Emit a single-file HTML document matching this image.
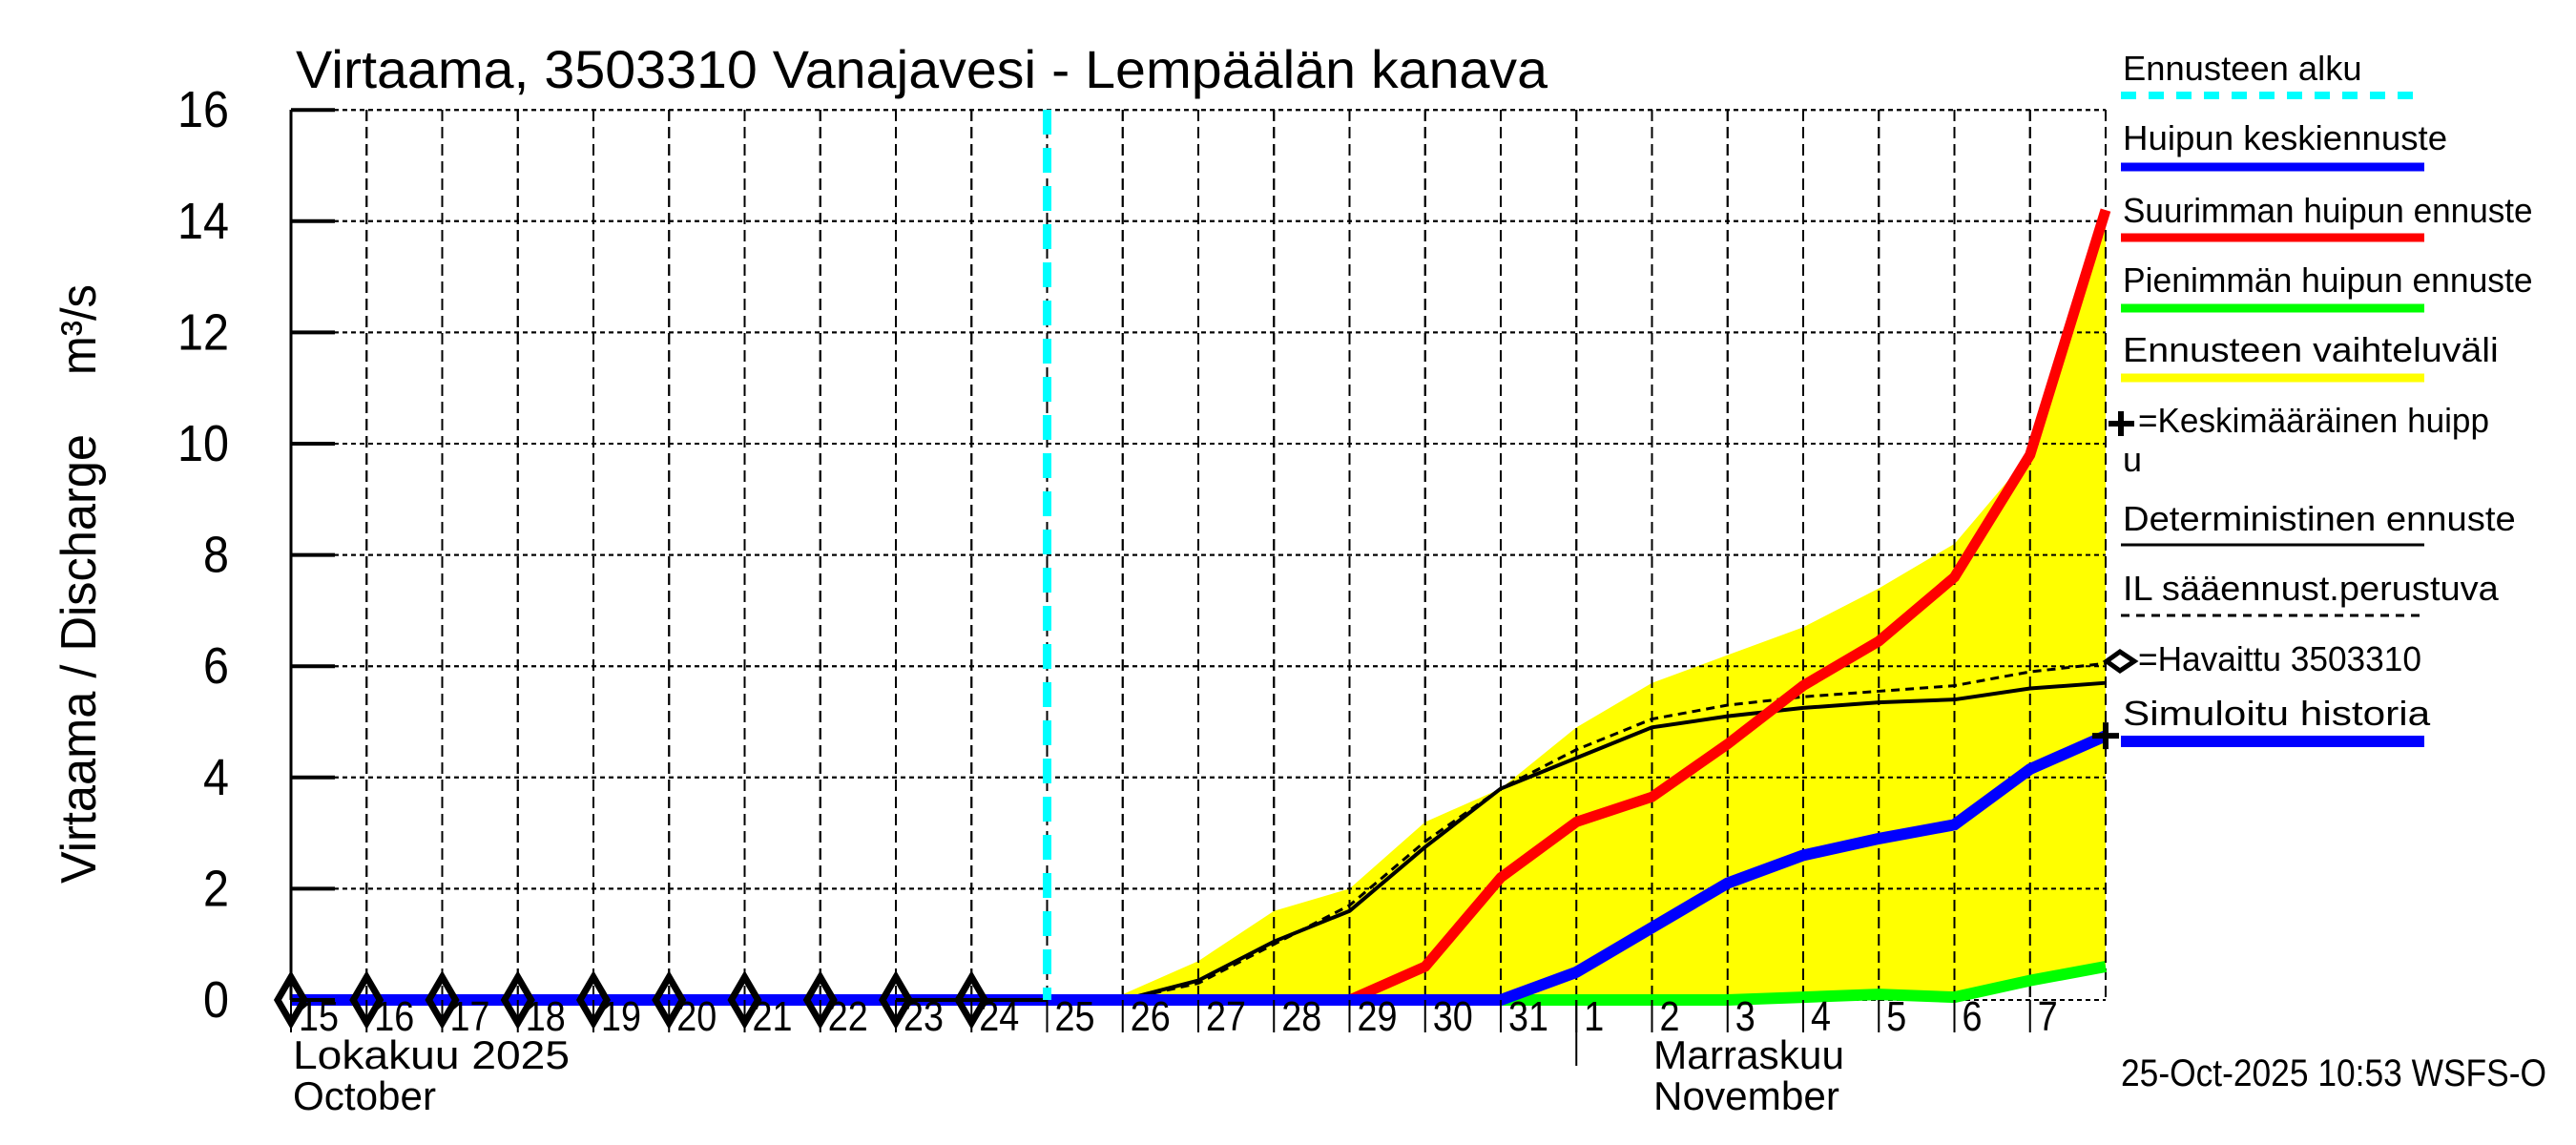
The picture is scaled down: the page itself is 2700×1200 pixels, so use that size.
<!DOCTYPE html>
<html><head><meta charset="utf-8"><style>html,body{margin:0;padding:0;background:#fff}svg{display:block}text{font-family:"Liberation Sans",sans-serif}</style></head>
<body>
<svg id="chart" width="2700" height="1200" viewBox="0 0 2700 1200" xmlns="http://www.w3.org/2000/svg">
<text x="310" y="92" font-size="56" textLength="1312" lengthAdjust="spacingAndGlyphs">Virtaama, 3503310 Vanajavesi - Lempäälän kanava</text>
<text transform="translate(100,926) rotate(-90)" font-size="52" textLength="471" lengthAdjust="spacingAndGlyphs">Virtaama / Discharge</text>
<text transform="translate(100,393) rotate(-90)" font-size="52" textLength="95" lengthAdjust="spacingAndGlyphs">m³/s</text>
<g id="grid"></g><g id="series"></g><g id="axes"></g><g id="legend"></g>
<text x="307" y="1120" font-size="42" textLength="290" lengthAdjust="spacingAndGlyphs">Lokakuu  2025</text>
<text x="307" y="1163" font-size="42" textLength="150" lengthAdjust="spacingAndGlyphs">October</text>
<text x="1733" y="1120" font-size="42" textLength="200" lengthAdjust="spacingAndGlyphs">Marraskuu</text>
<text x="1733" y="1163" font-size="42" textLength="195" lengthAdjust="spacingAndGlyphs">November</text>
<text x="2223" y="1138" font-size="40" textLength="446" lengthAdjust="spacingAndGlyphs">25-Oct-2025 10:53 WSFS-O</text>
</svg>
<script>
const dayLabels=["15","16","17","18","19","20","21","22","23","24","25","26","27","28","29","30","31","1","2","3","4","5","6","7"];
const yTicks=[0,2,4,6,8,10,12,14,16];
const forecastDays=[10,11,12,13,14,15,16,17,18,19,20,21,22,23,24];
const bandUpper=[0,0.1,0.7,1.6,2.0,3.2,3.8,4.9,5.7,6.2,6.7,7.4,8.2,9.8,14.2];
const bandLower=[0,0,0,0,0,0,0,0,0,0,0.05,0.1,0.05,0.35,0.6];
const redMax=[0,0,0,0,0,0.6,2.2,3.2,3.65,4.6,5.65,6.45,7.6,9.8,14.2];
const blueMean=[0,0,0,0,0,0,0,0.5,1.3,2.1,2.6,2.9,3.15,4.15,4.75];
const greenMin=[0,0,0,0,0,0,0,0,0,0,0.05,0.1,0.05,0.35,0.6];
const detDays=[8,9,10,11,12,13,14,15,16,17,18,19,20,21,22,23,24];
const detValues=[0,0,0,0,0.35,1.05,1.6,2.75,3.8,4.35,4.9,5.1,5.25,5.35,5.4,5.6,5.7];
const ilValues=[0,0,0,0,0.3,1.0,1.7,2.85,3.8,4.5,5.05,5.3,5.45,5.55,5.65,5.9,6.05];
const obsDays=[0,1,2,3,4,5,6,7,8,9];
const obsValues=[0,0,0,0,0,0,0,0,0,0];
const simDays=[0,1,2,3,4,5,6,7,8,9,10];
const simValues=[0,0,0,0,0,0,0,0,0,0,0];
const forecastStart=10;
const meanPeakDay=24, meanPeakValue=4.75;

const X0=305,DX=79.25,Y0=1048,DY=58.3,XR=2207,YT=115;
const xs=d=>X0+d*DX, ys=v=>Y0-v*DY;
const NS="http://www.w3.org/2000/svg";
function mk(tag,attrs,parent){const e=document.createElementNS(NS,tag);for(const k in attrs)e.setAttribute(k,attrs[k]);parent.appendChild(e);return e;}
const grid=document.getElementById('grid'),ser=document.getElementById('series'),ax=document.getElementById('axes'),lg=document.getElementById('legend');
yTicks.forEach(v=>{
 const l=mk('line',{x1:X0,x2:XR,y1:ys(v),y2:ys(v),stroke:'#000','stroke-width':2,'stroke-dasharray':'5,4'},grid);
 
 
 const t=mk('line',{x1:X0,x2:X0+46,y1:ys(v),y2:ys(v),stroke:'#000','stroke-width':4},ax);
 
 
 const s=String(v);
 const tx=mk('text',{x:240,y:ys(v)+18,'text-anchor':'end','font-size':54,textLength:s.length*27,lengthAdjust:'spacingAndGlyphs'},ax);
 
 
 tx.textContent=s;
});
for(let d=1;d<=24;d++){
 const l=mk('line',{x1:xs(d),x2:xs(d),y1:YT,y2:Y0,stroke:'#000','stroke-width':2,'stroke-dasharray':'12,6'},grid);
 
 
}
dayLabels.forEach((lab,i)=>{
 const t=mk('line',{x1:xs(i),x2:xs(i),y1:Y0,y2:Y0+34,stroke:'#000','stroke-width':2},ax);
 
 
 const tx=mk('text',{x:xs(i)+8,y:1080,'font-size':44,textLength:lab.length*21,lengthAdjust:'spacingAndGlyphs'},ax);
 
 
 tx.textContent=lab;
});
const ms=mk('line',{x1:xs(17),x2:xs(17),y1:Y0,y2:1117,stroke:'#000','stroke-width':2},ax);


let pts=forecastDays.map((d,i)=>xs(d)+','+ys(bandUpper[i]));
for(let i=forecastDays.length-1;i>=0;i--)pts.push(xs(forecastDays[i])+','+ys(bandLower[i]));
const band=mk('polygon',{points:pts.join(' '),fill:'#ffff00'},ser);


const g2=grid.cloneNode(true);ser.appendChild(g2);
const path=(days,vals)=>days.map((d,i)=>xs(d)+','+ys(vals[i])).join(' ');
const sim=mk('polyline',{points:path(simDays,simValues),fill:'none',stroke:'#0000ff','stroke-width':12},ser);


const gr=mk('polyline',{points:path(forecastDays,greenMin),fill:'none',stroke:'#00ff00','stroke-width':12},ser);


const det=mk('polyline',{points:path(detDays,detValues),fill:'none',stroke:'#000','stroke-width':4},ser);


const il=mk('polyline',{points:path(detDays,ilValues),fill:'none',stroke:'#000','stroke-width':3,'stroke-dasharray':'9,6'},ser);


const rd=mk('polyline',{points:path(forecastDays,redMax),fill:'none',stroke:'#ff0000','stroke-width':11},ser);


const bl=mk('polyline',{points:path(forecastDays,blueMean),fill:'none',stroke:'#0000ff','stroke-width':12},ser);


const cy=mk('line',{x1:xs(forecastStart),x2:xs(forecastStart),y1:YT,y2:Y0,stroke:'#00ffff','stroke-width':9,'stroke-dasharray':'26,14'},ser);


obsDays.forEach((d,i)=>{
 const x=xs(d),y=ys(obsValues[i]);
 const dm=mk('polygon',{points:`${x},${y-24} ${x+14},${y} ${x},${y+24} ${x-14},${y}`,fill:'none',stroke:'#000','stroke-width':7},ser);
 
 
});
const px=xs(meanPeakDay),py=ys(meanPeakValue);
const pl=mk('path',{d:`M${px-14},${py}H${px+14}M${px},${py-14}V${py+14}`,stroke:'#000','stroke-width':6},ser);


const axl=mk('line',{x1:X0,x2:X0,y1:YT,y2:Y0,stroke:'#000','stroke-width':3},ax);


const LX=2225,LE=2541;
const leg=[["Ennusteen alku",84,100,{stroke:'#00ffff','stroke-width':8,'stroke-dasharray':'16,13'}],
["Huipun keskiennuste",157,175,{stroke:'#0000ff','stroke-width':9}],
["Suurimman huipun ennuste",233,249,{stroke:'#ff0000','stroke-width':9}],
["Pienimmän huipun ennuste",306,323,{stroke:'#00ff00','stroke-width':9}],
["Ennusteen vaihteluväli",379,396,{stroke:'#ffff00','stroke-width':9}],
["Deterministinen ennuste",556,571,{stroke:'#000','stroke-width':3}],
["IL sääennust.perustuva",629,645,{stroke:'#000','stroke-width':3,'stroke-dasharray':'9,7'}],
["Simuloitu historia",760,777,{stroke:'#0000ff','stroke-width':12}]];
leg.forEach(([t,ty,ly,st])=>{
 const tx=mk('text',{x:LX,y:ty,'font-size':36,textLength:t.length*17.9,lengthAdjust:'spacingAndGlyphs'},lg);
 
 
 tx.textContent=t;
 const a=Object.assign({x1:LX-2,x2:LE,y1:ly,y2:ly},st);
 const l=mk('line',a,lg);
 
 
});
const k=mk('text',{x:2241,y:453,'font-size':36,textLength:368,lengthAdjust:'spacingAndGlyphs'},lg);


k.textContent="=Keskimääräinen huipp";
const k2=mk('text',{x:2225,y:494,'font-size':36},lg);


k2.textContent="u";
const kp=mk('path',{d:'M2210,444H2237M2223,431V457',stroke:'#000','stroke-width':6},lg);


const h=mk('text',{x:2241,y:703,'font-size':36,textLength:297,lengthAdjust:'spacingAndGlyphs'},lg);


h.textContent="=Havaittu 3503310";
const hd=mk('polygon',{points:'2208,693 2222,683 2237,693 2222,703',fill:'none',stroke:'#000','stroke-width':5},lg);


</script>
</body></html>
